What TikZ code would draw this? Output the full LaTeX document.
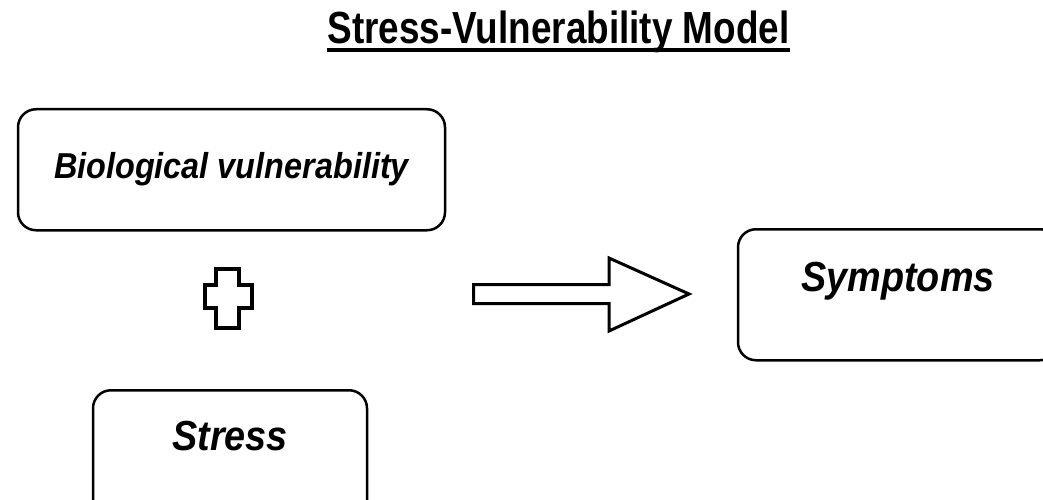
\documentclass[tikz,border=0pt]{standalone}
\usepackage{fontspec}
\setmainfont{Liberation Sans}
\newfontfamily\titlefont[FakeStretch=0.82]{Liberation Sans}
\newfontfamily\boxfont[FakeStretch=0.9]{Liberation Sans}
\newcommand{\boxtext}{\boxfont\bfseries\itshape}

\begin{document}
\begin{tikzpicture}[x = 1pt, y = -1pt,
    box/.style = {draw, line width = 2.5pt, rounded corners = 18pt, anchor = north, inner sep = 0pt},
    outline/.style = {draw, line width = 3pt, line join = miter}]
  \useasboundingbox (0,0) rectangle (1043,500);
  % title
  \node[font = \titlefont\bfseries\fontsize{45}{50}\selectfont, inner sep = 0pt, anchor = base] (title) at (558.5,44) {Stress-Vulnerability Model};
  \draw[line width = 3.5pt] ([yshift = -6pt]title.base west) -- ([yshift = -6pt]title.base east);
  % boxes
  \node[box, minimum width = 427pt, text height = 69pt, text depth = 52pt, font = \boxtext\fontsize{36}{40}\selectfont] (bio) at (231.5,108) {Biological vulnerability};
  \node[box, minimum width = 274pt, text height = 60pt, text depth = 70pt, font = \boxtext\fontsize{42}{48}\selectfont] (stress) at (230,389) {Stress};
  \node[box, minimum width = 320pt, text height = 62pt, text depth = 69pt, font = \boxtext\fontsize{42}{48}\selectfont] (symptoms) at (898,228) {Symptoms};
  % plus sign
  \draw[outline, line width = 4pt] (216,269) -- (239,269) -- (239,285) -- (252,285) -- (252,308) -- (239,308) -- (239,328) -- (216,328) -- (216,308) -- (205,308) -- (205,285) -- (216,285) -- cycle;
  % block arrow
  \draw[outline] (473.5,284.5) -- (609,284.5) -- (609,258) -- (689,294) -- (609,331) -- (609,303.5) -- (473.5,303.5) -- cycle;
\end{tikzpicture}
\end{document}
